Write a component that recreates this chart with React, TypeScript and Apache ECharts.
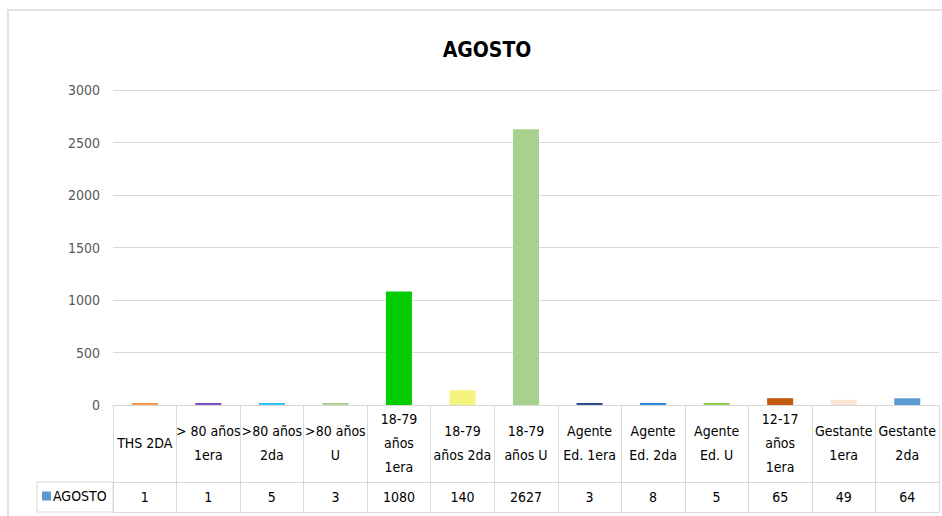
import React, { useEffect, useRef } from "react";
import * as echarts from "echarts";

const categories = [
  "THS 2DA",
  "> 80 años\n1era",
  ">80 años\n2da",
  ">80 años\nU",
  "18-79\naños\n1era",
  "18-79\naños 2da",
  "18-79\naños U",
  "Agente\nEd. 1era",
  "Agente\nEd. 2da",
  "Agente\nEd. U",
  "12-17\naños\n1era",
  "Gestante\n1era",
  "Gestante\n2da",
];
const values = [1, 1, 5, 3, 1080, 140, 2627, 3, 8, 5, 65, 49, 64];
const barColors = [
  "#F79646",
  "#7E4FC6",
  "#2EC4F2",
  "#A9D18E",
  "#00CC00",
  "#F4F47E",
  "#A9D18E",
  "#2F4B8F",
  "#2E86DE",
  "#92D050",
  "#C55A11",
  "#FBE5D6",
  "#5B9BD5",
];
const seriesName = "AGOSTO";
const yTicks = { min: 0, max: 3000, interval: 500 };

const FONT = '"DejaVu Sans Condensed", "Liberation Sans Narrow", sans-serif';
const GRID = "#d9d9d9";
const FS = 14;

export default function App() {
  const ref = useRef<HTMLDivElement>(null);
  useEffect(() => {
    document.body.style.margin = "0";
    const chart = echarts.init(ref.current!, undefined, { renderer: "svg" });
    chart.setOption({
      animation: false,
      backgroundColor: "#ffffff",
      title: {
        text: seriesName,
        left: 482,
        top: 34,
        textAlign: "center",
        textStyle: { fontFamily: FONT, fontSize: 21, fontWeight: "bold", color: "#000" },
      },
      legend: {
        data: [seriesName],
        left: 42,
        top: 489,
        padding: 0,
        icon: "rect",
        itemWidth: 9,
        itemHeight: 9,
        itemGap: 3,
        textStyle: { fontFamily: FONT, fontSize: FS, color: "#000", padding: [0, 0, 0, -3] },
        selectedMode: false,
      },
      grid: { left: 113, right: 3, top: 90, bottom: 111, containLabel: false },
      yAxis: {
        type: "value",
        min: yTicks.min,
        max: yTicks.max,
        interval: yTicks.interval,
        axisLine: { show: false },
        axisTick: { show: false },
        axisLabel: {
          fontFamily: FONT,
          fontSize: FS,
          color: "#595959",
          margin: 13,
          formatter: (v: number) => String(v),
        },
        splitLine: { lineStyle: { color: GRID, width: 1 } },
      },
      xAxis: [
        {
          type: "category",
          data: categories,
          axisLine: { lineStyle: { color: GRID, width: 1 } },
          axisTick: { show: true, length: 107, lineStyle: { color: GRID, width: 1 } },
          axisLabel: {
            interval: 0,
            margin: 38,
            verticalAlign: "middle",
            lineHeight: 24,
            fontFamily: FONT,
            fontSize: FS,
            color: "#000",
          },
        },
        {
          type: "category",
          data: categories,
          position: "bottom",
          offset: 77,
          axisLine: { lineStyle: { color: GRID, width: 1 } },
          axisTick: { show: false },
          axisLabel: {
            interval: 0,
            margin: 15,
            verticalAlign: "middle",
            fontFamily: FONT,
            fontSize: FS,
            color: "#000",
            formatter: (_v: string, i: number) => String(values[i]),
          },
        },
        {
          type: "category",
          data: categories,
          position: "bottom",
          offset: 107,
          axisLine: { lineStyle: { color: GRID, width: 1 } },
          axisTick: { show: false },
          axisLabel: { show: false },
        },
      ],
      graphic: [
        {
          type: "rect",
          shape: { x: 8, y: 10, width: 960, height: 530 },
          style: { fill: "none", stroke: GRID, lineWidth: 1.5 },
          silent: true,
        },
        {
          type: "rect",
          shape: { x: 37, y: 482, width: 76, height: 30 },
          style: { fill: "none", stroke: GRID, lineWidth: 1 },
          silent: true,
        },
      ],
      series: [
        {
          name: seriesName,
          type: "bar",
          xAxisIndex: 0,
          barWidth: 26,
          barMinHeight: 2,
          itemStyle: { color: "#5B9BD5" },
          data: values.map((v, i) => ({ value: v, itemStyle: { color: barColors[i] } })),
        },
      ],
    });
    return () => chart.dispose();
  }, []);
  return (
    <div
      ref={ref}
      style={{ width: 942, height: 516, position: "absolute", left: 0, top: 0 }}
    />
  );
}
